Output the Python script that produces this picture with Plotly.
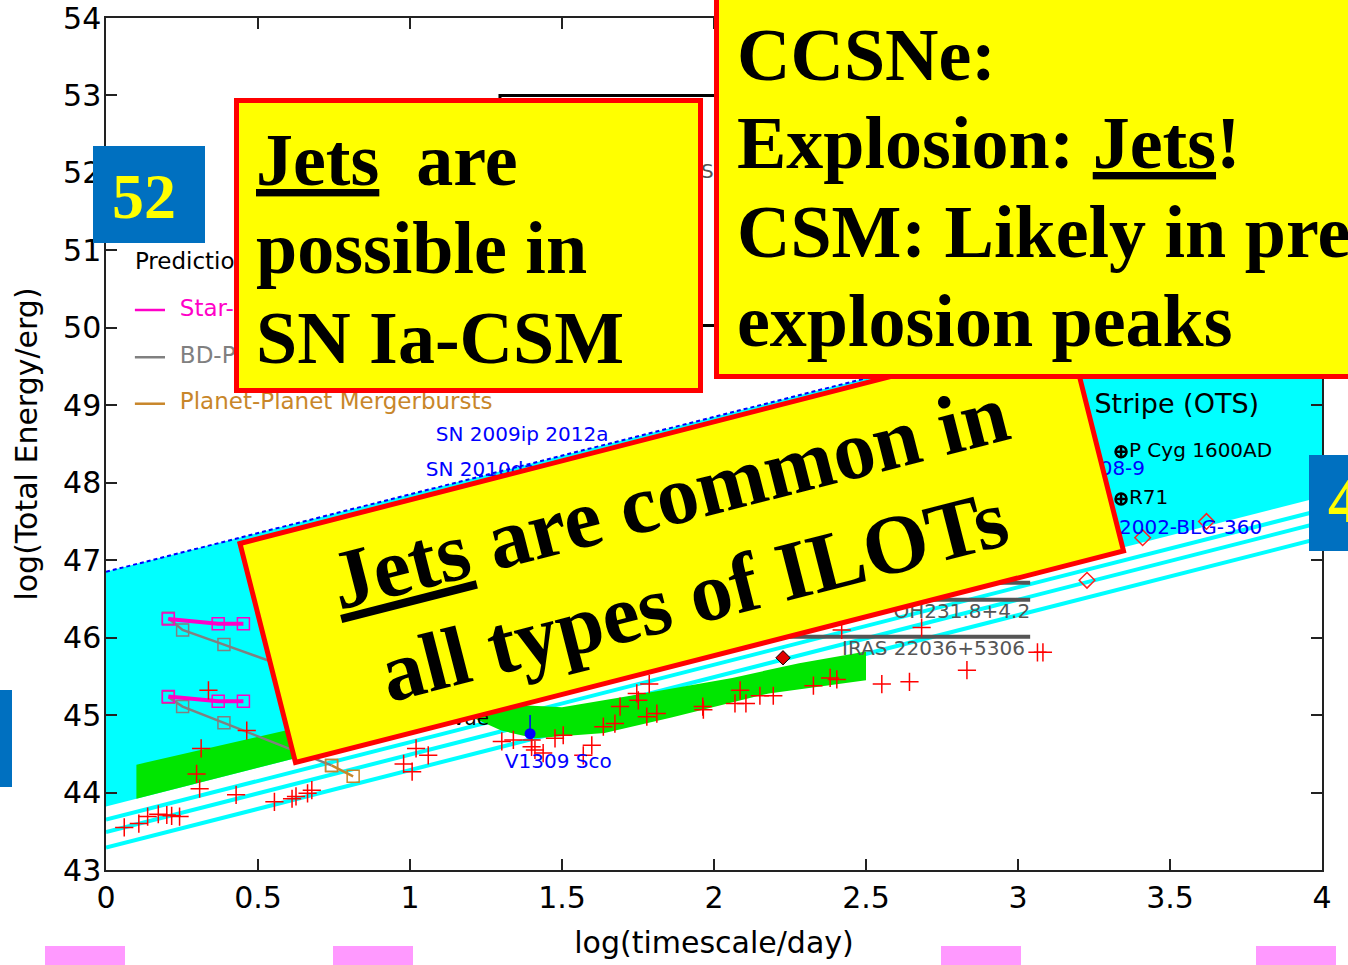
import plotly.graph_objects as go

# ---------------- axes ----------------
x_tickvals = [0, 0.5, 1, 1.5, 2, 2.5, 3, 3.5, 4]
x_ticktext = ["0", "0.5", "1", "1.5", "2", "2.5", "3", "3.5", "4"]
y_tickvals = [43, 44, 45, 46, 47, 48, 49, 50, 51, 52, 53, 54]
y_ticktext = ["43", "44", "45", "46", "47", "48", "49", "50", "51", "52", "53", "54"]

# ---------------- optically thin stripe (OTS) ----------------
ots_t = [0, 4]
ots_top = [46.85, 50.85]
ots_bottom = [43.82, 47.82]
stripe_1 = [43.65, 47.65]
stripe_2 = [43.49, 47.49]
stripe_3 = [43.29, 47.29]

# ---------------- green band ----------------
band_t = [0.10, 0.58, 1.00, 1.50, 1.74, 2.06, 2.28, 2.50,
          2.50, 2.18, 1.86, 1.64, 1.41, 1.30, 1.20, 0.90, 0.60, 0.10]
band_e = [44.36, 44.79, 45.20, 45.10, 45.26, 45.48, 45.67, 45.82,
          45.45, 45.28, 44.97, 44.77, 44.70, 44.80, 44.98, 44.72, 44.42, 43.92]

# ---------------- CCSNe outline ----------------
ccsn_t = [1.296, 3.6]
ccsn_e = [50.03, 53.0]

# ---------------- classical novae ----------------
novae_t = [0.060, 0.108, 0.137, 0.172, 0.200, 0.216, 0.242, 0.298, 0.308, 0.313,
           0.337, 0.428, 0.463, 0.554, 0.612, 0.625, 0.663, 0.677, 0.979, 1.007,
           1.020, 1.060, 1.302, 1.340, 1.400, 1.400, 1.411, 1.438, 1.477, 1.504,
           1.570, 1.598, 1.636, 1.674, 1.691, 1.746, 1.751, 1.787, 1.779, 1.812,
           1.963, 1.965, 2.086, 2.069, 2.105, 2.151, 2.195, 2.327, 2.382, 2.404,
           2.552, 2.643, 2.832, 3.064, 3.082, 2.683, 2.420]
novae_e = [43.55, 43.60, 43.69, 43.72, 43.71, 43.70, 43.69, 44.24, 44.05, 44.57,
           45.32, 43.97, 44.80, 43.88, 43.92, 43.95, 43.99, 44.03, 44.37, 44.27,
           44.57, 44.48, 44.66, 44.68, 44.68, 44.59, 44.55, 44.51, 44.70, 44.74,
           44.48, 44.61, 44.85, 44.89, 45.11, 45.28, 45.19, 45.40, 44.98, 45.02,
           45.11, 45.07, 45.32, 45.15, 45.15, 45.25, 45.25, 45.38, 45.48, 45.46,
           45.40, 45.43, 45.58, 45.81, 45.81, 46.13, 46.10]

# ---------------- predicted mergerburst tracks ----------------
sp_t = [0.205, 0.369, 0.452]
sp_e_hi = [46.24, 46.18, 46.18]
sp_e_lo = [45.24, 45.18, 45.18]
bd_t = [0.205, 0.252, 0.388, 0.742]
bd_e_hi = [46.25, 46.10, 45.91, 45.41]
bd_e_lo = [45.23, 45.11, 44.90, 44.35]
pp_t = [0.742, 0.813]
pp_e = [44.35, 44.21]

# ---------------- individual objects ----------------
pn_t0 = [2.0, 2.0, 2.0]
pn_t1 = [3.04, 3.04, 3.04]
pn_e = [46.71, 46.49, 46.01]

filled_diamond_t = [2.227]
filled_diamond_e = [45.74]
open_diamond_t = [3.227, 3.410, 3.620]
open_diamond_e = [46.74, 47.29, 47.50]

lbv_t = [3.339, 3.339]
lbv_e = [48.40, 47.79]
lbv_names = ["P Cyg 1600AD", "R71"]

v1309_t = [1.395]
v1309_e = [44.76]
v1309_err = [0.24]

# ---------------- manual legend ----------------
legend_title = "Predictions:"
legend_names = ["Star-Planet Mergerbursts", "BD-Planet Mergerbursts", "Planet-Planet Mergerbursts"]
legend_colors = ["#ff00c8", "#808080", "#c8862a"]
legend_e = [50.23, 49.62, 49.02]

MAGENTA, GRAY, ORANGE = legend_colors
CYAN = "#00ffff"
GREEN = "#00e600"
FONT = "DejaVu Sans"
SERIF = "Liberation Serif"

fig = go.Figure()

# OTS filled band
fig.add_trace(go.Scatter(
    x=ots_t + ots_t[::-1], y=ots_top + ots_bottom[::-1],
    fill="toself", fillcolor=CYAN, mode="lines", line=dict(width=0),
    hoverinfo="skip"))
for s in (stripe_1, stripe_2, stripe_3):
    fig.add_trace(go.Scatter(x=ots_t, y=s, mode="lines",
                             line=dict(color=CYAN, width=4), hoverinfo="skip"))
fig.add_trace(go.Scatter(x=ots_t, y=ots_top, mode="lines",
                         line=dict(color="blue", width=2, dash="4px,3px"),
                         hoverinfo="skip"))

# green band
fig.add_trace(go.Scatter(x=band_t, y=band_e, fill="toself", fillcolor=GREEN,
                         mode="lines", line=dict(width=0), hoverinfo="skip"))

# CCSNe outline
fig.add_trace(go.Scatter(
    x=[ccsn_t[0], ccsn_t[0], ccsn_t[1], ccsn_t[1], ccsn_t[0]],
    y=[ccsn_e[0], ccsn_e[1], ccsn_e[1], ccsn_e[0], ccsn_e[0]],
    mode="lines", line=dict(color="black", width=3), hoverinfo="skip"))

# planetary-nebula outflow segments
for t0, t1, e in zip(pn_t0, pn_t1, pn_e):
    fig.add_trace(go.Scatter(x=[t0, t1], y=[e, e], mode="lines",
                             line=dict(color="#555555", width=4), hoverinfo="skip"))

# predicted tracks
def square_marker(col):
    return dict(symbol="square-open", size=12, color=col, line=dict(color=col, width=1.5))


for e in (bd_e_hi, bd_e_lo):
    fig.add_trace(go.Scatter(x=bd_t, y=e, mode="lines+markers",
                             line=dict(color=GRAY, width=2.5),
                             marker=square_marker(GRAY), hoverinfo="skip"))
fig.add_trace(go.Scatter(x=pp_t, y=pp_e, mode="lines+markers",
                         line=dict(color=ORANGE, width=2.5),
                         marker=square_marker(ORANGE), hoverinfo="skip"))
for e in (sp_e_hi, sp_e_lo):
    fig.add_trace(go.Scatter(x=sp_t, y=e, mode="lines+markers",
                             line=dict(color=MAGENTA, width=4),
                             marker=square_marker(MAGENTA), hoverinfo="skip"))

# novae
fig.add_trace(go.Scatter(x=novae_t, y=novae_e, mode="markers",
                         marker=dict(symbol="cross-thin", size=13, color="red",
                                     line=dict(color="red", width=1.5)),
                         hoverinfo="skip"))

# diamonds
fig.add_trace(go.Scatter(x=filled_diamond_t, y=filled_diamond_e, mode="markers",
                         marker=dict(symbol="diamond", size=11, color="#e00000",
                                     line=dict(color="black", width=1)),
                         hoverinfo="skip"))
fig.add_trace(go.Scatter(x=open_diamond_t, y=open_diamond_e, mode="markers",
                         marker=dict(symbol="diamond-open", size=12, color="#ff2020",
                                     line=dict(color="#ff2020", width=1.5)),
                         hoverinfo="skip"))

# LBV giant eruptions
fig.add_trace(go.Scatter(x=lbv_t, y=lbv_e, mode="markers+text", text=lbv_names,
                         textposition="middle right",
                         textfont=dict(family=FONT, size=20, color="black"),
                         marker=dict(symbol="circle-cross-open", size=11, color="black",
                                     line=dict(color="black", width=2.5)),
                         hoverinfo="skip"))

# V1309 Sco
fig.add_trace(go.Scatter(x=v1309_t, y=v1309_e, mode="markers",
                         marker=dict(symbol="circle", size=11, color="blue"),
                         error_y=dict(type="data", array=v1309_err, arrayminus=[0],
                                      color="blue", thickness=1.5, width=0),
                         hoverinfo="skip"))

# manual legend
for name, col, e in zip(legend_names, legend_colors, legend_e):
    fig.add_trace(go.Scatter(x=[0.095, 0.194], y=[e, e], mode="lines",
                             line=dict(color=col, width=2.5), hoverinfo="skip"))
    fig.add_trace(go.Scatter(x=[0.243], y=[e], mode="text", text=[name],
                             textposition="middle right",
                             textfont=dict(family=FONT, size=23, color=col),
                             hoverinfo="skip"))
fig.add_trace(go.Scatter(x=[0.095], y=[50.84], mode="text", text=[legend_title],
                         textposition="middle right",
                         textfont=dict(family=FONT, size=23, color="black"),
                         hoverinfo="skip"))

# object labels
labels = [
    ("SN 2009ip 2012a", 1.085, 48.60, "blue", 20, "middle right"),
    ("SN 2010da", 1.052, 48.15, "blue", 20, "middle right"),
    ("V1309 Sco", 1.312, 44.38, "blue", 20, "middle right"),
    ("NGC 300 OT 2008-9", 3.418, 48.16, "blue", 20, "middle left"),
    ("OGLE-2002-BLG-360", 3.803, 47.40, "blue", 20, "middle left"),
    ("Optically Thin Stripe (OTS)", 3.793, 48.99, "black", 27, "middle left"),
    ("OH231.8+4.2", 3.040, 46.32, "#555555", 20, "middle left"),
    ("IRAS 22036+5306", 3.023, 45.84, "#555555", 20, "middle left"),
    ("Novae", 1.260, 44.94, "black", 20, "middle left"),
    ("SNe", 1.957, 52.0, "#555555", 20, "middle right"),
]
for txt, t, e, col, size, pos in labels:
    fig.add_trace(go.Scatter(x=[t], y=[e], mode="text", text=[txt], textposition=pos,
                             textfont=dict(family=FONT, size=size, color=col),
                             hoverinfo="skip"))

# ---------------- slide overlays (pixel geometry -> paper coords) ----------------
PL, PT, PW, PH = 106, 18, 1216, 852


def xp(v):
    return (v - PL) / PW


def yp(v):
    return (PT + PH - v) / PH


shapes = []


def rect(x0, y0, x1, y1, fill, line_color=None, lw=0):
    shapes.append(dict(type="rect", xref="paper", yref="paper", layer="above",
                       x0=xp(x0), x1=xp(x1), y0=yp(y0), y1=yp(y1),
                       fillcolor=fill,
                       line=dict(color=line_color or fill, width=lw)))


YELLOW = "#ffff00"
RED = "#ff0000"
BLUE_BOX = "#0070c0"
PINK = "#ff99ff"

# tilted callout first, so the upper-right callout sits on top of it
corners = [(240, 543.5), (1068, 331), (1123.5, 551), (295.5, 762.5)]
path = "M " + " L ".join(f"{xp(a):.5f},{yp(b):.5f}" for a, b in corners) + " Z"
shapes.append(dict(type="path", path=path, xref="paper", yref="paper", layer="above",
                   fillcolor=YELLOW, line=dict(color=RED, width=5)))

rect(236.5, 100.5, 700.5, 390.5, YELLOW, RED, 5)
rect(716.5, -20, 1380, 376.5, YELLOW, RED, 5)
rect(93, 146, 205, 243, BLUE_BOX)
rect(1309, 455, 1360, 551, BLUE_BOX)
rect(-5, 690, 12, 787, BLUE_BOX)
for x0 in (45, 333, 941, 1256):
    rect(x0, 946, x0 + 80, 975, PINK)

annotations = []


def note(text, x, y, size, xanchor="left", color="black", angle=0, family=SERIF):
    annotations.append(dict(text=text, x=xp(x), y=yp(y), xref="paper", yref="paper",
                            showarrow=False, xanchor=xanchor, yanchor="middle",
                            textangle=angle,
                            font=dict(family=family, size=size, color=color)))


B = "<b>{}</b>"
note(B.format("<u>Jets</u>\u00a0\u00a0are"), 254, 160, 74)
note(B.format("possible in"), 254, 248, 74)
note(B.format("SN Ia-CSM"), 254, 338, 74)

note(B.format("CCSNe:"), 735, 55, 74)
note(B.format("Explosion: <u>Jets</u>!"), 735, 143, 74)
note(B.format("CSM: Likely in pre-"), 735, 232, 74)
note(B.format("explosion peaks"), 735, 321, 74)

note(B.format("<u>Jets</u> are common in"), 669, 496, 84, xanchor="center", angle=-14.3)
note(B.format("all types of ILOTs"), 693, 595, 84, xanchor="center", angle=-14.3)

note(B.format("52"), 144, 197, 64, xanchor="center", color=YELLOW)
note(B.format("4"), 1326, 500, 64, color=YELLOW)

axis_common = dict(ticks="inside", ticklen=11, tickwidth=1.5, tickcolor="#222222",
                   showline=True, linewidth=1.5, linecolor="#222222", mirror="ticks",
                   showgrid=False, zeroline=False, automargin=False,
                   tickfont=dict(family=FONT, size=30, color="black"))

fig.update_layout(
    width=1348, height=965,
    margin=dict(l=PL, r=1348 - PL - PW, t=PT, b=965 - PT - PH, pad=0),
    paper_bgcolor="white", plot_bgcolor="white",
    showlegend=False,
    xaxis=dict(range=[0, 4], tickvals=x_tickvals, ticktext=x_ticktext,
               title=dict(text="log(timescale/day)",
                          font=dict(family=FONT, size=30, color="black"), standoff=18),
               **axis_common),
    yaxis=dict(range=[43, 54], tickvals=y_tickvals, ticktext=y_ticktext,
               ticklabelstandoff=-3,
               title=dict(text="log(Total Energy/erg)",
                          font=dict(family=FONT, size=30, color="black"), standoff=17),
               **axis_common),
    shapes=shapes,
    annotations=annotations,
)

fig.write_html("out.html")
